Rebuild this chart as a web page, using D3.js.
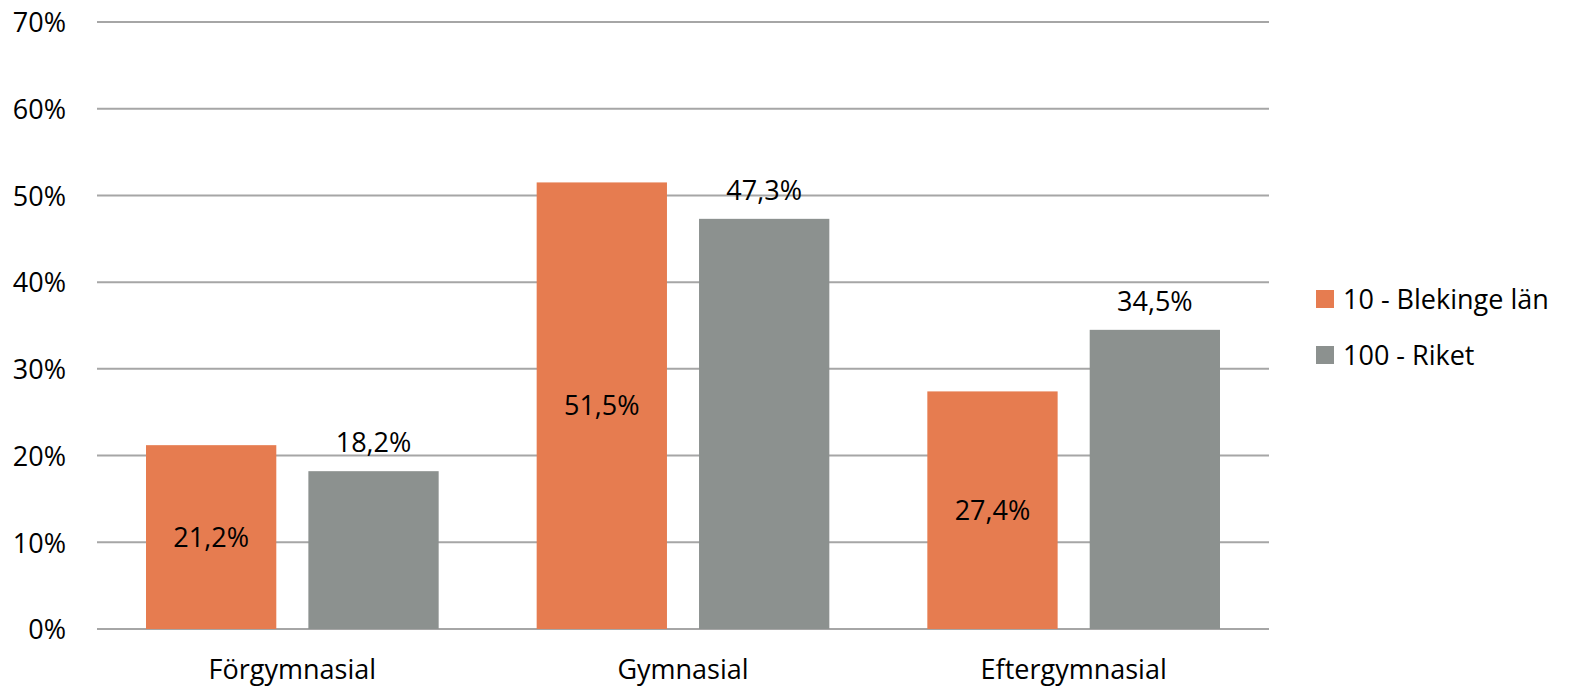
<!DOCTYPE html>
<html><head><meta charset="utf-8">
<script src="https://cdn.jsdelivr.net/npm/d3@7"></script>
<style>body{margin:0;background:#fff}svg{display:block;font-family:"Open Sans",Lato,sans-serif}</style>
</head><body>
<svg id="chart" width="1571" height="687"></svg>
<script>
const categories = ["Förgymnasial", "Gymnasial", "Eftergymnasial"];
const seriesNames = ["10 - Blekinge län", "100 - Riket"];
const blekinge = [21.2, 51.5, 27.4];
const riket = [18.2, 47.3, 34.5];
const yTicks = [0, 10, 20, 30, 40, 50, 60, 70];
const colors = ["#E67C50", "#8C918F"];

(function () {
const svg = d3.select("#chart");
const FS = 27;
const mLeft = 97, mRight = 1269, mTop = 22, mBottom = 629;
const y = d3.scaleLinear().domain([0, 70]).range([mBottom, mTop]);
const x0 = d3.scaleBand().domain(categories).range([mLeft, mRight]).padding(0);
const x1 = d3.scaleBand().domain(seriesNames).range([49, x0.bandwidth() - 49]).paddingInner(0.1975).paddingOuter(0);
const fmt = v => v.toFixed(1).replace(".", ",") + "%";

// gridlines
svg.append("g").selectAll("line").data(yTicks).join("line")
  .attr("x1", mLeft).attr("x2", mRight)
  .attr("y1", d => y(d)).attr("y2", d => y(d))
  .attr("stroke", "#a6a6a6").attr("stroke-width", 2);

// y axis labels
const yAxis = d3.axisLeft(y).tickValues(yTicks).tickFormat(d => d + "%").tickSize(0).tickPadding(0);
const ya = svg.append("g").attr("transform", "translate(66,0)").call(yAxis);
ya.select(".domain").remove();
ya.selectAll("text").attr("font-size", FS).attr("fill", "#000").attr("font-family", "Open Sans").attr("dy", "0.36em");

// x axis labels
const xAxis = d3.axisBottom(x0).tickSize(0).tickPadding(0);
const xa = svg.append("g").attr("transform", "translate(0,679)").call(xAxis);
xa.select(".domain").remove();
xa.selectAll("text").attr("font-size", FS).attr("fill", "#000").attr("font-family", "Open Sans").attr("dy", 0);

const data = categories.map((c, i) => ({cat: c, vals: [blekinge[i], riket[i]]}));
const groups = svg.append("g").selectAll("g").data(data).join("g")
  .attr("transform", d => `translate(${x0(d.cat)},0)`);

groups.selectAll("rect").data(d => d.vals.map((v, j) => ({name: seriesNames[j], v, j}))).join("rect")
  .attr("x", d => x1(d.name)).attr("width", x1.bandwidth())
  .attr("y", d => y(d.v)).attr("height", d => mBottom - y(d.v))
  .attr("fill", d => colors[d.j]);

groups.selectAll("text.val").data(d => d.vals.map((v, j) => ({name: seriesNames[j], v, j}))).join("text")
  .attr("class", "val")
  .attr("x", d => x1(d.name) + x1.bandwidth() / 2)
  .attr("y", d => d.j === 0 ? (y(d.v) + mBottom) / 2 : y(d.v) - 19)
  .attr("dy", d => d.j === 0 ? "0.36em" : 0)
  .attr("text-anchor", "middle").attr("font-size", FS).attr("fill", "#000")
  .text(d => fmt(d.v));

// legend
const lg = svg.append("g").selectAll("g").data(seriesNames).join("g")
  .attr("transform", (d, i) => `translate(1316,${290 + i * 56})`);
lg.append("rect").attr("width", 18).attr("height", 18).attr("fill", (d, i) => colors[i]);
lg.append("text").attr("x", 27).attr("y", 9).attr("dy", "0.36em").attr("font-size", FS).attr("fill", "#000").text(d => d);
})();
</script>
</body></html>
